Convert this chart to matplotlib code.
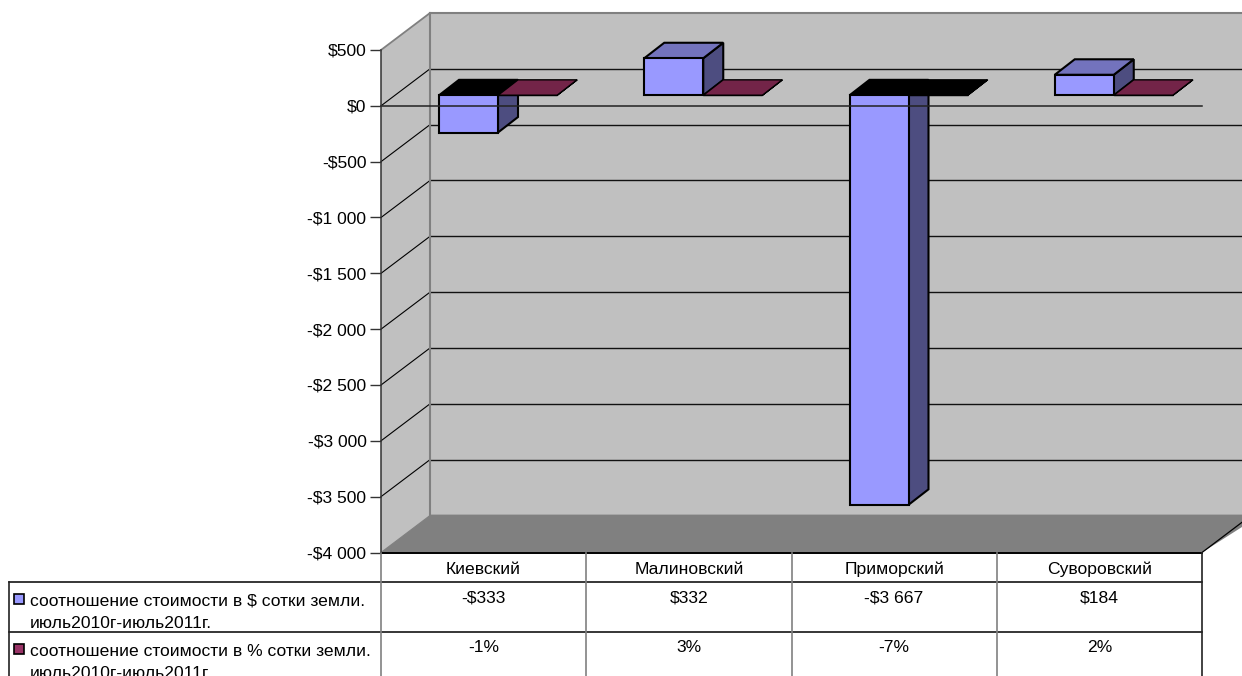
import matplotlib
matplotlib.use("Agg")
import matplotlib.pyplot as plt
from matplotlib.patches import Polygon, Rectangle

plt.rcParams['font.family'] = ['Liberation Sans', 'DejaVu Sans']

categories = ['Киевский', 'Малиновский', 'Приморский', 'Суворовский']
usd_values = [-333, 332, -3667, 184]
pct_values = [-0.01, 0.03, -0.07, 0.02]
usd_labels = ['-$333', '$332', '-$3 667', '$184']
pct_labels = ['-1%', '3%', '-7%', '2%']
series_names = ['соотношение стоимости в $ сотки земли.\nиюль2010г-июль2011г.',
                'соотношение стоимости в % сотки земли.\nиюль2010г-июль2011г.']
y_ticks = [500, 0, -500, -1000, -1500, -2000, -2500, -3000, -3500, -4000]
y_tick_labels = ['$500', '$0', '-$500', '-$1 000', '-$1 500', '-$2 000',
                 '-$2 500', '-$3 000', '-$3 500', '-$4 000']
usd_cap_colors = ['#000000', '#7373BD', '#000000', '#7373BD']
pct_cap_colors = ['#732448', '#732448', '#000000', '#732448']

W, H = 1242, 676
L, R, T, B = 381.0, 1202.0, 50.0, 552.5
fig = plt.figure(figsize=(W / 100, H / 100), dpi=100, facecolor='white')
ax = fig.add_axes([L / W, 1 - B / H, (R - L) / W, (B - T) / H])
ax.set_xlim(0, 4)
ax.set_ylim(-4000, 500)
ax.patch.set_visible(False)

cat_px = (R - L) / 4
val_px = (B - T) / 4500
def X(px): return (px - L) / cat_px
def Y(py): return 500 - (py - T) / val_px
def DX(px): return px / cat_px
def DY(px): return px / val_px

WALL_DX, WALL_DY = 49, 37
FONT = 12.6
GRAY = '#808080'

def poly(pts, fc, ec='none', lw=0.0, z=1):
    ax.add_patch(Polygon(pts, closed=True, facecolor=fc, edgecolor=ec, linewidth=lw,
                         zorder=z, clip_on=False, joinstyle='miter'))

# walls
wx = DX(WALL_DX); wy = DY(WALL_DY)
poly([(0, -4000), (wx, -4000 + wy), (wx, 500 + wy), (X(1242), 500 + wy), (X(1242), -4000 + wy)],
     '#C0C0C0', z=1)
poly([(0, -4000), (wx, -4000 + wy), (wx, 500 + wy), (0, 500)], '#C0C0C0', z=1)
poly([(0, -4000), (wx, -4000 + wy), (X(1260), -4000 + wy), (4, -4000)], GRAY, z=2)

for v in y_ticks[1:-1]:
    ax.plot([0, wx], [v, v + wy], color='black', lw=0.8, zorder=3, clip_on=False)
    ax.plot([wx, X(1242)], [v + wy, v + wy], color='#111111', lw=1.0, zorder=3, clip_on=False)
ax.plot([0, wx, wx, X(1242)], [500, 500 + wy, -4000 + wy, -4000 + wy], color=GRAY, lw=1.3,
        zorder=3, clip_on=False, solid_joinstyle='miter')
ax.plot([wx, X(1242)], [500 + wy, 500 + wy], color=GRAY, lw=1.5, zorder=3, clip_on=False)
ax.plot([wx, wx], [500 + wy, -4000 + wy], color=GRAY, lw=1.5, zorder=3, clip_on=False)
ax.plot([0, wx], [-4000, -4000 + wy], color=GRAY, lw=0.8, zorder=3, clip_on=False)
ax.plot([4, X(1251)], [-4000, -4000 + wy], color='black', lw=0.9, zorder=3, clip_on=False)

# bars
BAR_W = DX(59.0)
GAP = DX(58.0)
BD_X, BD_Y = DX(20), DY(15.5)
BASE = DY(10.5)

def bar3d(x0, value, front, cap, side, z, lw=1.5):
    x1 = x0 + BAR_W
    y0 = BASE
    y1 = BASE + value
    top, bot = max(y0, y1), min(y0, y1)
    kw = dict(ec='black', lw=lw, z=z)
    poly([(x1, bot), (x1 + BD_X, bot + BD_Y), (x1 + BD_X, top + BD_Y), (x1, top)], side, **kw)
    poly([(x0, top), (x0 + BD_X, top + BD_Y), (x1 + BD_X, top + BD_Y), (x1, top)], cap, **kw)
    poly([(x0, bot), (x1, bot), (x1, top), (x0, top)], front, **kw)

for i, (u, p) in enumerate(zip(usd_values, pct_values)):
    x0 = i + GAP
    bar3d(x0, u, '#9999FF', usd_cap_colors[i], '#4D4D80', 5 + i * 2)
    bar3d(x0 + BAR_W, p, '#993366', pct_cap_colors[i], '#4D1A33', 6 + i * 2, lw=1.0)

# zero line in the front plane
ax.plot([0, 4], [0, 0], color='#222222', lw=1.1, zorder=20, clip_on=False)

# y axis
for s in ['top', 'right', 'bottom']:
    ax.spines[s].set_visible(False)
ax.spines['left'].set_color('#333333')
ax.spines['left'].set_linewidth(1.1)
ax.spines['left'].set_zorder(21)
ax.set_yticks(y_ticks)
ax.set_yticklabels(y_tick_labels, fontsize=FONT, color='black')
ax.tick_params(axis='y', length=8, width=1.0, color='#333333', pad=2.5)
ax.set_xticks([])

# data table
y_head, y_r1, y_r2 = 552.5, 582, 632.3
TL = 9.0
def hline(x0, x1, py, c='black', lw=1.1):
    ax.plot([X(x0), X(x1)], [Y(py), Y(py)], color=c, lw=lw, zorder=22, clip_on=False)
def vline(px, y0, y1, c=GRAY, lw=1.2):
    ax.plot([X(px), X(px)], [Y(y0), Y(y1)], color=c, lw=lw, zorder=22, clip_on=False)

hline(L, R, y_head, lw=1.4)
hline(TL, R, y_r1)
hline(TL, R, y_r2)
for k in range(5):
    vline(L + k * cat_px, y_head, 676, c=GRAY if k < 4 else '#222222')
vline(TL, y_r1, 676, c='#222222')

for i, c in enumerate(categories):
    xc = i + 0.5
    ax.text(xc, Y(569), c, ha='center', va='center', fontsize=FONT, zorder=23)
    ax.text(xc, Y(597.5), usd_labels[i], ha='center', va='center', fontsize=FONT, zorder=23)
    ax.text(xc, Y(648), pct_labels[i], ha='center', va='center', fontsize=FONT, zorder=23)

for name, yc, col in zip(series_names, [598.5, 648.5], ['#9999FF', '#993366']):
    ax.add_patch(Rectangle((X(14.5), Y(yc + 5)), DX(10), DY(10), facecolor=col, edgecolor='black',
                           linewidth=1.2, zorder=23, clip_on=False))
    l1, l2 = name.split('\n')
    ax.text(X(30), Y(yc + 2.5), l1, ha='left', va='center', fontsize=FONT, zorder=23, clip_on=False)
    ax.text(X(30), Y(yc + 24.5), l2, ha='left', va='center', fontsize=FONT, zorder=23, clip_on=False)

fig.savefig('out.png', dpi=100, facecolor='white')
